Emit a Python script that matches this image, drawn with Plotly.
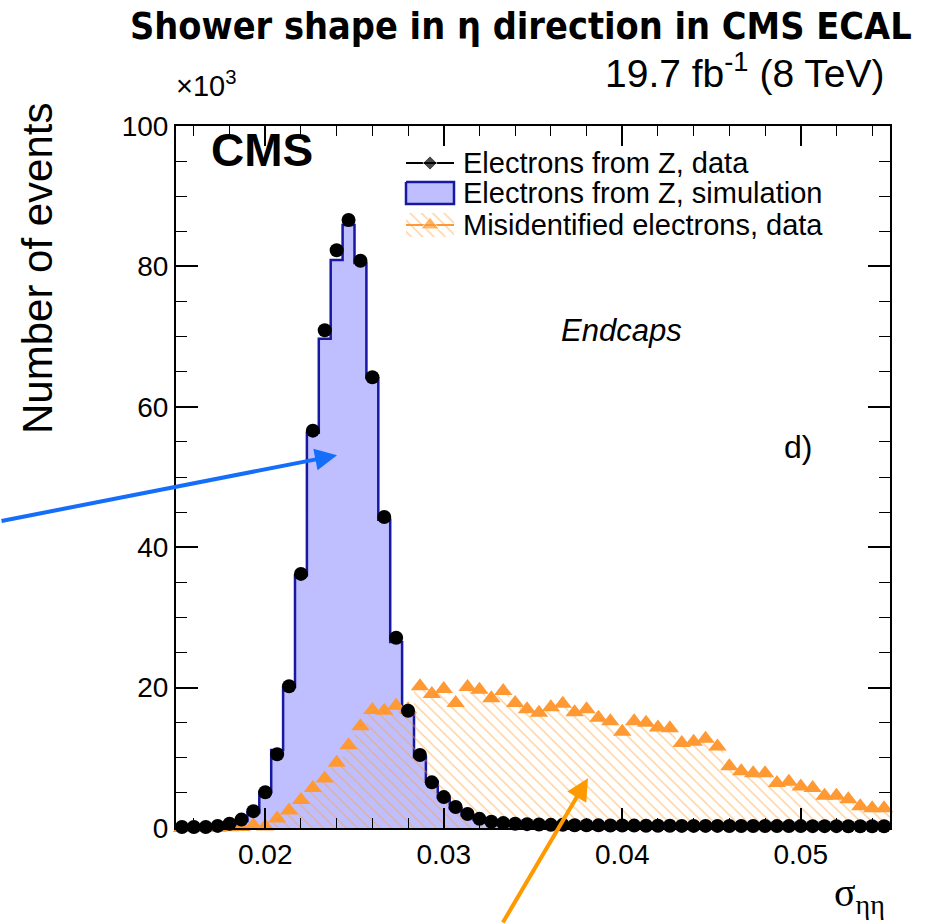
import numpy as np
import plotly.graph_objects as go

# ---------------- data (thousands of events per bin) ----------------
x_min, x_max, n_bins = 0.015, 0.055, 60

data_z = [0.15, 0.15, 0.15, 0.3, 0.6, 1.2, 2.4, 5.1, 10.5, 20.2,
          36.2, 56.6, 70.9, 82.3, 86.6, 80.8, 64.2, 44.3, 27.1, 16.7,
          10.4, 6.5, 4.4, 3.0, 2.0, 1.3, 0.9, 0.7, 0.6, 0.55,
          0.5, 0.45, 0.45, 0.4, 0.4, 0.38, 0.36, 0.35, 0.34, 0.33,
          0.32, 0.31, 0.3, 0.3, 0.3, 0.3, 0.28, 0.28, 0.28, 0.28,
          0.27, 0.27, 0.27, 0.26, 0.26, 0.26, 0.25, 0.25, 0.25, 0.25]

sim_z = [0.1, 0.1, 0.15, 0.25, 0.5, 1.0, 2.2, 5.1, 11.1, 20.1,
         36.0, 56.3, 69.7, 80.9, 85.9, 80.5, 64.1, 43.9, 26.5, 16.4,
         10.1, 6.6, 4.3, 2.8, 1.8, 1.2, 0.8, 0.6, 0.5, 0.45,
         0.4, 0.38, 0.36, 0.35, 0.34, 0.33, 0.32, 0.31, 0.3, 0.3,
         0.3, 0.29, 0.29, 0.28, 0.28, 0.28, 0.27, 0.27, 0.27, 0.26,
         0.26, 0.26, 0.25, 0.25, 0.25, 0.25, 0.24, 0.24, 0.24, 0.24]

misid = [0.0, 0.05, 0.05, 0.05, 0.1, 0.15, 0.4, 0.2, 1.35, 2.5,
         4.0, 5.7, 7.05, 9.3, 11.8, 14.5, 16.8, 16.7, 17.4, 16.9,
         20.2, 19.1, 19.8, 17.8, 20.1, 19.7, 18.5, 19.5, 17.8, 16.9,
         16.4, 17.2, 17.7, 16.5, 16.9, 15.7, 15.2, 13.7, 15.2, 15.0,
         14.3, 14.2, 12.1, 12.3, 12.7, 11.6, 8.8, 8.1, 7.8, 7.8,
         6.4, 6.6, 5.9, 5.7, 4.6, 4.6, 4.1, 3.1, 2.8, 2.8]

legend_labels = ["Electrons from Z, data",
                 "Electrons from Z, simulation",
                 "Misidentified electrons, data"]

# ---------------- styles ----------------
SANS = "Liberation Sans, Arial, Helvetica, sans-serif"
BLUE_FILL = "rgb(191,191,255)"
BLUE_LINE = "rgb(24,24,160)"
ORANGE = "rgb(255,153,51)"
HATCH = "rgba(255,160,50,1)"

edges = np.linspace(x_min, x_max, n_bins + 1)
centers = 0.5 * (edges[:-1] + edges[1:])


def step(vals):
    return list(edges), list(vals) + [vals[-1]]


fig = go.Figure()

sx, sy = step(sim_z)
fig.add_trace(go.Scatter(x=sx, y=sy, mode="lines",
                         line=dict(shape="hv", color=BLUE_LINE, width=2.5),
                         fill="tozeroy", fillcolor=BLUE_FILL,
                         showlegend=False, hoverinfo="skip"))

mx, my = step(misid)
fig.add_trace(go.Scatter(x=mx, y=my, mode="lines",
                         line=dict(shape="hv", color="rgba(0,0,0,0)", width=0),
                         fill="tozeroy", fillcolor="rgba(0,0,0,0)",
                         fillpattern=dict(shape="\\", fgcolor=HATCH,
                                          bgcolor="rgba(0,0,0,0)",
                                          size=8, solidity=0.18),
                         showlegend=False, hoverinfo="skip"))

fig.add_trace(go.Scatter(x=centers, y=misid, mode="markers",
                         marker=dict(symbol="triangle-up", size=16, color=ORANGE),
                         cliponaxis=False, showlegend=False))

fig.add_trace(go.Scatter(x=centers, y=data_z, mode="markers",
                         marker=dict(symbol="circle", size=14, color="black"),
                         cliponaxis=False, showlegend=False))

# ---------------- manual legend swatches (overlay pixel axes) ----------------
L, R = 406, 454
rows = [163, 193, 225]
fig.add_trace(go.Scatter(x=[L, (L + R) / 2, R], y=[rows[0]] * 3, mode="lines+markers",
                         line=dict(color="black", width=2),
                         marker=dict(symbol="diamond", size=[0, 11, 0], color="black"),
                         xaxis="x2", yaxis="y2", showlegend=False, hoverinfo="skip"))
fig.add_trace(go.Scatter(x=[L, R, R, L, L], y=[rows[1] - 11, rows[1] - 11, rows[1] + 11, rows[1] + 11, rows[1] - 11],
                         mode="lines", fill="toself", fillcolor=BLUE_FILL,
                         line=dict(color=BLUE_LINE, width=2.5),
                         xaxis="x2", yaxis="y2", showlegend=False, hoverinfo="skip"))
fig.add_trace(go.Scatter(x=[L, R, R, L, L], y=[rows[2] - 12, rows[2] - 12, rows[2] + 12, rows[2] + 12, rows[2] - 12],
                         mode="lines", fill="toself", fillcolor="rgba(0,0,0,0)",
                         fillpattern=dict(shape="\\", fgcolor=HATCH, bgcolor="rgba(0,0,0,0)",
                                          size=8, solidity=0.18),
                         line=dict(width=0, color="rgba(0,0,0,0)"),
                         xaxis="x2", yaxis="y2", showlegend=False, hoverinfo="skip"))
fig.add_trace(go.Scatter(x=[L, (L + R) / 2, R], y=[rows[2]] * 3, mode="lines+markers",
                         line=dict(color=ORANGE, width=2),
                         marker=dict(symbol="triangle-up", size=[0, 16, 0], color=ORANGE),
                         xaxis="x2", yaxis="y2", showlegend=False, hoverinfo="skip"))

# ---------------- layout ----------------
PL, PR, PT, PB = 176, 890, 126, 828
W, H = 937, 924


def px(xp):
    return (xp - PL) / (PR - PL)


def py(yp):
    return (PB - yp) / (PB - PT)


annos = []
for lab, ry in zip(legend_labels, rows):
    annos.append(dict(text=lab, x=px(461), y=py(ry), xref="paper", yref="paper",
                      xanchor="left", yanchor="middle", showarrow=False,
                      font=dict(family=SANS, size=29, color="black")))

annos += [
    dict(text="<b>Shower shape in η direction in CMS ECAL</b>", x=px(521), y=py(26),
         xref="paper", yref="paper", xanchor="center", yanchor="middle", showarrow=False,
         font=dict(family="Liberation Sans Narrow, DejaVu Sans Condensed, Arial Narrow, sans-serif",
                   size=37.5, color="black")),
    dict(text="19.7 fb<sup>-1</sup> (8 TeV)", x=px(886), y=py(70), xref="paper", yref="paper",
         xanchor="right", yanchor="middle", showarrow=False,
         font=dict(family=SANS, size=39, color="black")),
    dict(text="×10<sup>3</sup>", x=px(174), y=py(84), xref="paper", yref="paper",
         xanchor="left", yanchor="middle", showarrow=False,
         font=dict(family=SANS, size=29, color="black")),
    dict(text="<b>CMS</b>", x=px(209), y=py(150), xref="paper", yref="paper",
         xanchor="left", yanchor="middle", showarrow=False,
         font=dict(family=SANS, size=46, color="black")),
    dict(text="<i>Endcaps</i>", x=px(621), y=py(330), xref="paper", yref="paper",
         xanchor="center", yanchor="middle", showarrow=False,
         font=dict(family=SANS, size=31, color="black")),
    dict(text="d)", x=px(798), y=py(447), xref="paper", yref="paper",
         xanchor="center", yanchor="middle", showarrow=False,
         font=dict(family=SANS, size=32, color="black")),
    dict(text="Number of events", x=px(37), y=py(268), xref="paper", yref="paper",
         xanchor="center", yanchor="middle", textangle=-90, showarrow=False,
         font=dict(family=SANS, size=42, color="black")),
    dict(text="σ<sub>ηη</sub>", x=px(887), y=py(895), xref="paper", yref="paper",
         xanchor="right", yanchor="middle", showarrow=False,
         font=dict(family="Liberation Serif, DejaVu Serif, serif", size=40, color="black")),
    # arrows
    dict(text="", x=0.02402, y=53.1, xref="x", yref="y", ax=-337, ay=66,
         axref="pixel", ayref="pixel", showarrow=True, arrowhead=2, arrowsize=1.1,
         arrowwidth=4, arrowcolor="rgb(20,110,250)", standoff=0),
    dict(text="", x=0.03808, y=7.1, xref="x", yref="y", ax=-86, ay=146,
         axref="pixel", ayref="pixel", showarrow=True, arrowhead=2, arrowsize=1.1,
         arrowwidth=4, arrowcolor="rgb(255,153,0)", standoff=0),
]

axis_common = dict(showline=True, linecolor="black", linewidth=2, mirror="ticks",
                   ticks="inside", tickcolor="black", showgrid=False, zeroline=False,
                   tickfont=dict(family=SANS, size=28, color="black"))

fig.update_layout(
    width=W, height=H,
    margin=dict(l=PL, r=W - PR, t=PT, b=H - PB, pad=0),
    paper_bgcolor="white", plot_bgcolor="white",
    showlegend=False,
    xaxis=dict(range=[x_min, x_max], tick0=0.02, dtick=0.01, ticklen=20, tickwidth=1.5,
               minor=dict(dtick=0.002, ticklen=10, tickwidth=1.2, ticks="inside", tickcolor="black"),
               **axis_common),
    yaxis=dict(range=[0, 100], tick0=0, dtick=20, ticklen=22, tickwidth=1.5,
               minor=dict(dtick=5, ticklen=11, tickwidth=1.2, ticks="inside", tickcolor="black"),
               **axis_common),
    xaxis2=dict(overlaying="x", range=[PL, PR], visible=False, anchor="y2"),
    yaxis2=dict(overlaying="y", range=[PB, PT], visible=False, anchor="x2"),
    annotations=annos,
)

fig.write_html("out.html")
